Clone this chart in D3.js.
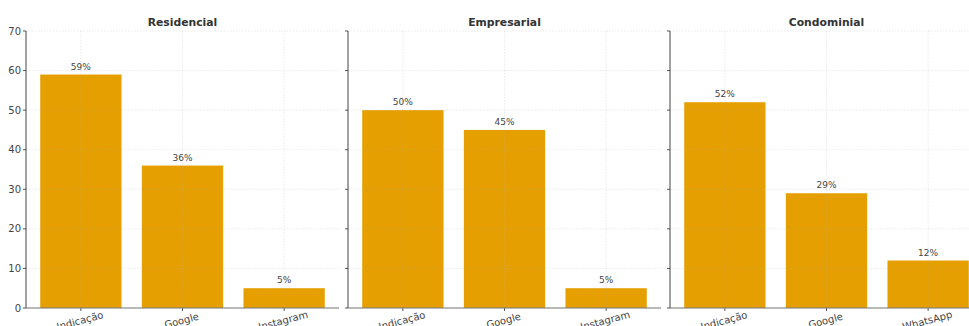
<!DOCTYPE html>
<html>
<head>
<meta charset="utf-8">
<script src="https://cdn.jsdelivr.net/npm/d3@7"></script>
<style>
  body { margin: 0; background: #fff; }
  svg { display: block; font-family: "DejaVu Sans", sans-serif; }
</style>
</head>
<body>
<div id="chart"></div>
<script>
// data
const panelTitles = ["Residencial", "Empresarial", "Condominial"];
const residencialLabels = ["Indicação", "Google", "Instagram"];
const residencialValues = [59, 36, 5];
const empresarialLabels = ["Indicação", "Google", "Instagram"];
const empresarialValues = [50, 45, 5];
const condominialLabels = ["Indicação", "Google", "WhatsApp"];
const condominialValues = [52, 29, 12];
const yTicks = [0, 10, 20, 30, 40, 50, 60, 70];

const panels = [
    { title: panelTitles[0], labels: residencialLabels, values: residencialValues },
    { title: panelTitles[1], labels: empresarialLabels, values: empresarialValues },
    { title: panelTitles[2], labels: condominialLabels, values: condominialValues }
];

const width = 969, height = 326;
const margin = { top: 31, bottom: 18, left: 26 };
const panelW = 313, panelGap = 9;
const plotH = height - margin.top - margin.bottom;

const svg = d3.select("#chart").append("svg")
    .attr("width", width)
    .attr("height", height);

const y = d3.scaleLinear().domain([0, 70]).range([plotH, 0]);

panels.forEach((p, i) => {
    const x0 = margin.left + i * (panelW + panelGap);
    const g = svg.append("g").attr("transform", `translate(${x0},${margin.top})`);

    // matplotlib-like x limits: bars at 0..n-1 with width 0.8 and 5% margin
    const n = p.values.length;
    const lo = -0.4, hi = n - 1 + 0.4, pad = (hi - lo) * 0.05;
    const x = d3.scaleLinear().domain([lo - pad, hi + pad]).range([0, panelW]);
    const bw = x(0.8) - x(0);

    g.selectAll(".bar")
        .data(p.values)
        .enter().append("rect")
        .attr("class", "bar")
        .attr("x", (d, j) => x(j) - bw / 2)
        .attr("y", d => y(d))
        .attr("width", bw)
        .attr("height", d => plotH - y(d))
        .attr("fill", "#E69F00");

    // grid over bars, faint and dotted
    g.selectAll(".hgrid")
        .data(yTicks)
        .enter().append("line")
        .attr("x1", 0).attr("x2", panelW)
        .attr("y1", d => y(d)).attr("y2", d => y(d))
        .attr("stroke", "#b0b0b0")
        .attr("stroke-opacity", 0.25)
        .attr("stroke-dasharray", "1.5,1.5");

    g.selectAll(".vgrid")
        .data(d3.range(n))
        .enter().append("line")
        .attr("x1", d => x(d)).attr("x2", d => x(d))
        .attr("y1", 0).attr("y2", plotH)
        .attr("stroke", "#b0b0b0")
        .attr("stroke-opacity", 0.25)
        .attr("stroke-dasharray", "1.5,1.5");

    // value labels
    g.selectAll(".val")
        .data(p.values)
        .enter().append("text")
        .attr("x", (d, j) => x(j))
        .attr("y", d => y(d) - 5)
        .attr("text-anchor", "middle")
        .attr("font-size", 9)
        .attr("fill", "#444")
        .text(d => d + "%");

    // y axis ticks (labels only on the first panel)
    g.selectAll(".ytick")
        .data(yTicks)
        .enter().append("line")
        .attr("x1", -3).attr("x2", 0)
        .attr("y1", d => y(d)).attr("y2", d => y(d))
        .attr("stroke", "#555");
    if (i === 0) {
        g.selectAll(".ylab")
            .data(yTicks)
            .enter().append("text")
            .attr("x", -5)
            .attr("y", d => y(d))
            .attr("dy", "0.35em")
            .attr("text-anchor", "end")
            .attr("font-size", 10)
            .attr("fill", "#444")
            .text(d => d);
    }

    // x ticks and rotated labels
    g.selectAll(".xtick")
        .data(d3.range(n))
        .enter().append("line")
        .attr("x1", d => x(d)).attr("x2", d => x(d))
        .attr("y1", plotH).attr("y2", plotH + 3)
        .attr("stroke", "#555");
    g.selectAll(".xlab")
        .data(p.labels)
        .enter().append("text")
        .attr("transform", (d, j) => `translate(${x(j)},${plotH + 16}) rotate(-15)`)
        .attr("text-anchor", "middle")
        .attr("font-size", 10)
        .attr("fill", "#444")
        .text(d => d);

    // spines
    g.append("line")
        .attr("x1", 0).attr("x2", 0).attr("y1", 0).attr("y2", plotH)
        .attr("stroke", "#444").attr("stroke-width", 1);
    g.append("line")
        .attr("x1", 0).attr("x2", panelW).attr("y1", plotH).attr("y2", plotH)
        .attr("stroke", "#777").attr("stroke-width", 1);

    // title
    g.append("text")
        .attr("x", panelW / 2)
        .attr("y", -5)
        .attr("text-anchor", "middle")
        .attr("font-size", 10.8)
        .attr("font-weight", "bold")
        .attr("fill", "#333")
        .text(p.title);
});
</script>
</body>
</html>
